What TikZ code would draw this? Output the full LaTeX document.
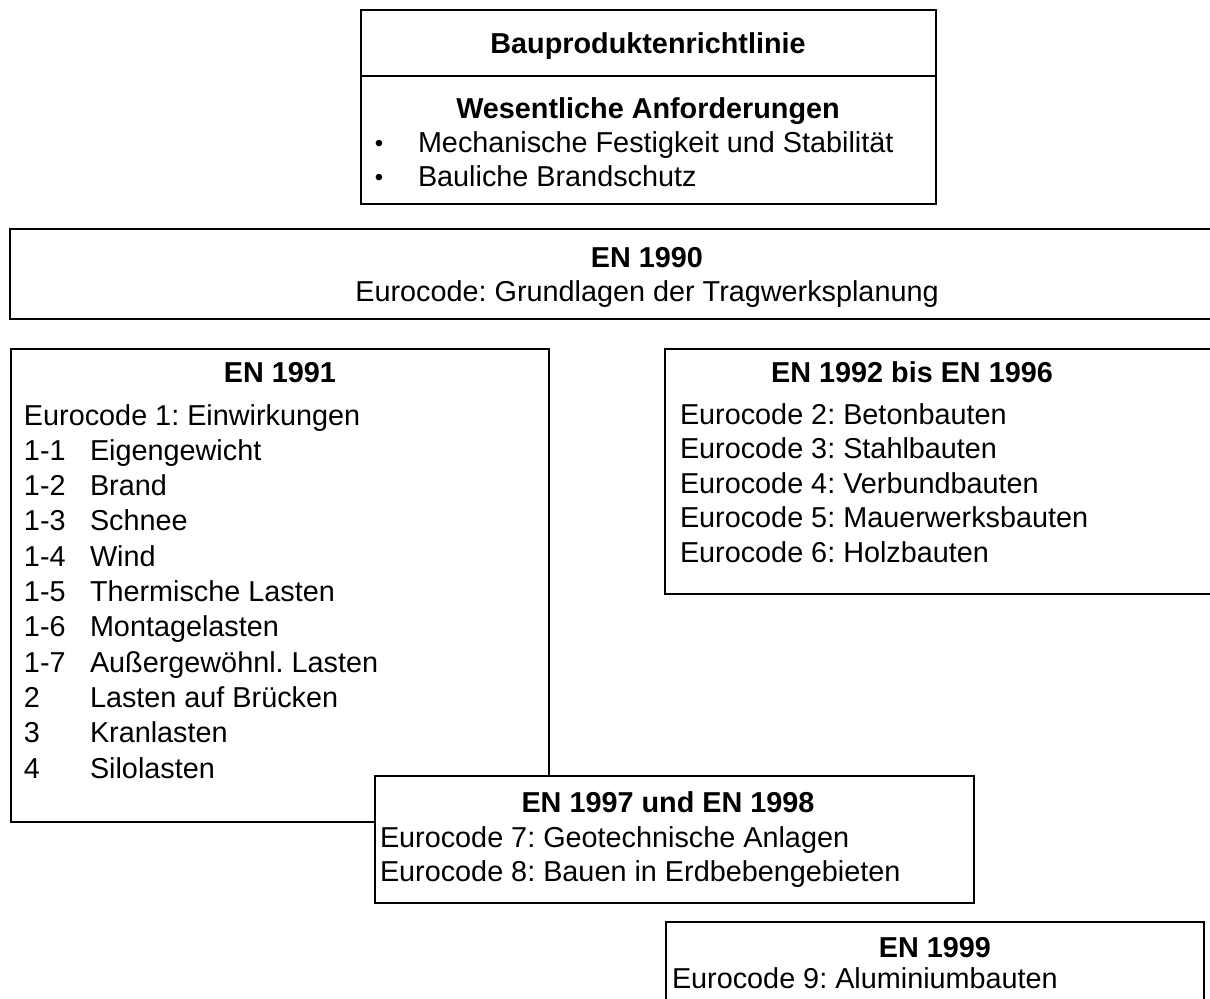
\documentclass[tikz,border=0pt]{standalone}
\usepackage{fontspec}
\setmainfont{Liberation Sans}
\frenchspacing
\begin{document}
\begin{tikzpicture}[x=0.5pt,y=-0.5pt,
  every node/.style={inner sep=0pt, outer sep=0pt, font=\fontsize{14.4}{17}\selectfont},
  frame/.style={draw=black, line width=1.3pt, fill=white},
  ttl/.style={font=\fontsize{14.4}{17}\selectfont\bfseries, anchor=base},
  ctr/.style={anchor=base},
  ln/.style={anchor=base west}]
\useasboundingbox (0,0) rectangle (1210,998);
\clip (0,0) rectangle (1210,998);

% Bauproduktenrichtlinie
\draw[frame] (361,10) rectangle (936,204);
\draw[frame] (361,76) -- (936,76);
\node[ttl] (a1) at (648,53) {Bauproduktenrichtlinie};
\node[ttl] (a2) at (648,118) {Wesentliche Anforderungen};
\node[ctr, font=\fontsize{12}{14}\selectfont] (ab1) at (379,151) {•};
\node[ln] (a3) at (418,152) {Mechanische Festigkeit und Stabilität};
\node[ctr, font=\fontsize{12}{14}\selectfont] (ab2) at (379,185) {•};
\node[ln] (a4) at (418,186) {Bauliche Brandschutz};

% EN 1990
\draw[frame] (10,229) rectangle (1300,319);
\node[ttl] (b1) at (647,267) {EN 1990};
\node[ctr] (b2) at (647,301) {Eurocode: Grundlagen der Tragwerksplanung};

% EN 1991
\draw[frame] (11,349) rectangle (549,822);
\node[ttl] (c0) at (280,382) {EN 1991};
\node[ln] (c1) at (24,425) {Eurocode 1: Einwirkungen};
\node[ln] (c2n) at (24,460.3) {1-1};  \node[ln] (c2) at (90,460.3) {Eigengewicht};
\node[ln] (c3n) at (24,495.6) {1-2};  \node[ln] (c3) at (90,495.6) {Brand};
\node[ln] (c4n) at (24,530.9) {1-3};  \node[ln] (c4) at (90,530.9) {Schnee};
\node[ln] (c5n) at (24,566.2) {1-4};  \node[ln] (c5) at (90,566.2) {Wind};
\node[ln] (c6n) at (24,601.5) {1-5};  \node[ln] (c6) at (90,601.5) {Thermische Lasten};
\node[ln] (c7n) at (24,636.8) {1-6};  \node[ln] (c7) at (90,636.8) {Montagelasten};
\node[ln] (c8n) at (24,672.1) {1-7};  \node[ln] (c8) at (90,672.1) {Außergewöhnl. Lasten};
\node[ln] (c9n) at (24,707.4) {2};    \node[ln] (c9) at (90,707.4) {Lasten auf Brücken};
\node[ln] (c10n) at (24,742.7) {3};   \node[ln] (c10) at (90,742.7) {Kranlasten};
\node[ln] (c11n) at (24,778) {4};     \node[ln] (c11) at (90,778) {Silolasten};

% EN 1992 bis EN 1996
\draw[frame] (665,349) rectangle (1300,594);
\node[ttl] (d0) at (912,382) {EN 1992 bis EN 1996};
\node[ln] (d1) at (680,424) {Eurocode 2: Betonbauten};
\node[ln] (d2) at (680,458.5) {Eurocode 3: Stahlbauten};
\node[ln] (d3) at (680,493) {Eurocode 4: Verbundbauten};
\node[ln] (d4) at (680,527.5) {Eurocode 5: Mauerwerksbauten};
\node[ln] (d5) at (680,562) {Eurocode 6: Holzbauten};

% EN 1997 und EN 1998
\draw[frame] (375,776) rectangle (974,903);
\node[ttl] (e0) at (668,812) {EN 1997 und EN 1998};
\node[ln] (e1) at (380,847) {Eurocode 7: Geotechnische Anlagen};
\node[ln] (e2) at (380,881) {Eurocode 8: Bauen in Erdbebengebieten};

% EN 1999
\draw[frame] (666,922) rectangle (1204,1060);
\node[ttl] (f0) at (935,957) {EN 1999};
\node[ln] (f1) at (672,988) {Eurocode 9: Aluminiumbauten};
\end{tikzpicture}
\end{document}
